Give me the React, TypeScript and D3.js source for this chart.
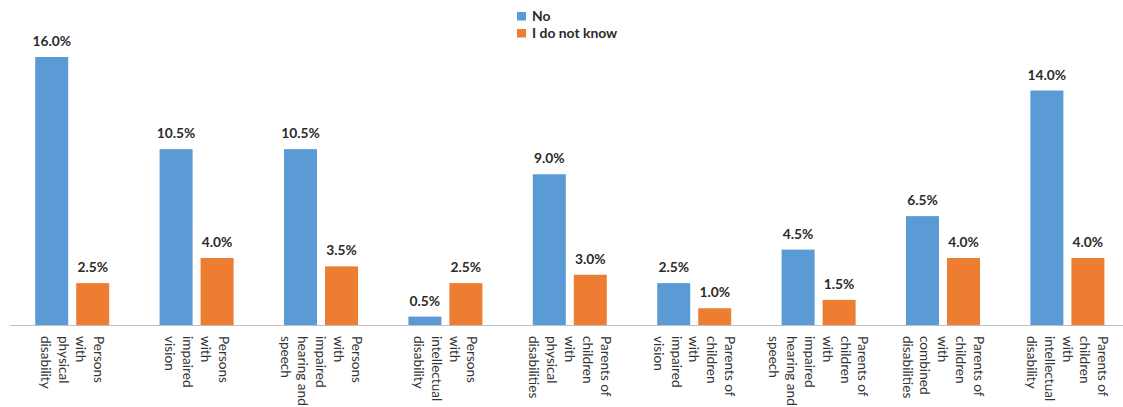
import React, { useEffect } from "react";
import * as d3 from "d3";

const categories: string[][] = [
  ["Persons", "with", "physical", "disability"],
  ["Persons", "with", "impaired", "vision"],
  ["Persons", "with", "impaired", "hearing and", "speech"],
  ["Persons", "with", "intellectual", "disability"],
  ["Parents of", "children", "with", "physical", "disabilities"],
  ["Parents of", "children", "with", "impaired", "vision"],
  ["Parents of", "children", "with", "impaired", "hearing and", "speech"],
  ["Parents of", "children", "with", "combined", "disabilities"],
  ["Parents of", "children", "with", "intellectual", "disability"],
];
const seriesNames = ["No", "I do not know"];
const noValues = [16.0, 10.5, 10.5, 0.5, 9.0, 2.5, 4.5, 6.5, 14.0];
const dontKnowValues = [2.5, 4.0, 3.5, 2.5, 3.0, 1.0, 1.5, 4.0, 4.0];
const colors = ["#5B9BD5", "#ED7D31"];

const W = 1123;
const H = 407;
const baseY = 325;

export default function App() {
  useEffect(() => {
    document.body.style.margin = "0";
  }, []);

  const keys = categories.map((c) => c.join(" "));
  const x0 = d3.scaleBand<string>().domain(keys).range([10, 10 + 9 * 124.4]).padding(0);
  const x1 = d3
    .scaleBand<string>()
    .domain(seriesNames)
    .range([25.2, 99.2])
    .paddingInner(8 / 41)
    .paddingOuter(0);
  const y = d3.scaleLinear().domain([0, 16]).range([baseY, 57]);
  const series = [noValues, dontKnowValues];
  const lineSp = 17.8;

  return (
    <svg width={W} height={H} style={{ display: "block" }}>
      <rect width={W} height={H} fill="#fff" />
      <line x1={10} x2={W} y1={baseY + 0.5} y2={baseY + 0.5} stroke="#BFBFBF" strokeWidth={1.2} />
      {keys.map((k, i) => (
        <g key={k} transform={`translate(${x0(k)},0)`}>
          {seriesNames.map((s, j) => {
            const v = series[j][i];
            const bx = x1(s)!;
            const bw = x1.bandwidth();
            return (
              <g key={s}>
                <rect x={bx} y={y(v)} width={bw} height={baseY - y(v)} fill={colors[j]} />
                <text
                  x={bx + bw / 2}
                  y={y(v) - 11}
                  textAnchor="middle"
                  fontFamily="Lato, 'Liberation Sans', sans-serif"
                  fontWeight="bold"
                  fontSize={13.8}
                  fill="#2b2b2b"
                >
                  {v.toFixed(1) + "%"}
                </text>
              </g>
            );
          })}
          {categories[i].map((line, li) => {
            const n = categories[i].length;
            const cx = x0.bandwidth() / 2 + ((n - 1) / 2) * lineSp - li * lineSp;
            return (
              <text
                key={li}
                transform={`translate(${cx},336) rotate(90)`}
                dy="0.35em"
                fontFamily="Lato, 'Liberation Sans', sans-serif"
                fontSize={13.6}
                fill="#333"
              >
                {line}
              </text>
            );
          })}
        </g>
      ))}
      <g fontFamily="Lato, 'Liberation Sans', sans-serif" fontWeight="bold" fontSize={13.9} fill="#2b2b2b">
        {seriesNames.map((s, j) => (
          <g key={s} transform={`translate(517,${12 + j * 17})`}>
            <rect width={9} height={8.5} fill={colors[j]} />
            <text x={15} y={4.5} dy="0.35em">
              {s}
            </text>
          </g>
        ))}
      </g>
    </svg>
  );
}
